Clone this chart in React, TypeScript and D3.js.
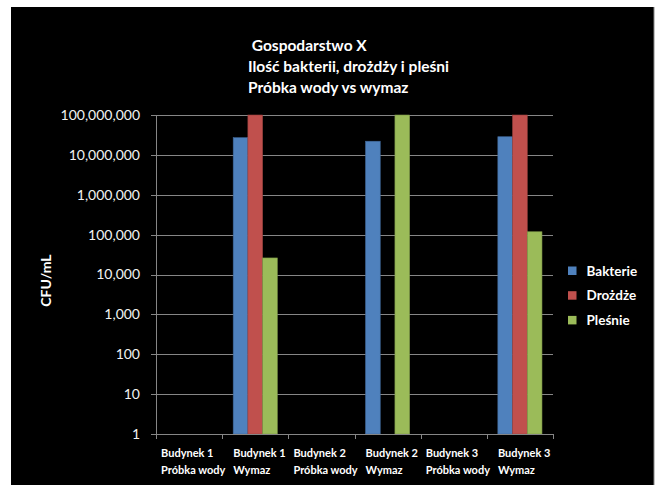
import React from "react";
import * as d3 from "d3";

const categories: [string, string][] = [
  ["Budynek 1", "Próbka wody"],
  ["Budynek 1", "Wymaz"],
  ["Budynek 2", "Próbka wody"],
  ["Budynek 2", "Wymaz"],
  ["Budynek 3", "Próbka wody"],
  ["Budynek 3", "Wymaz"],
];
const seriesNames = ["Bakterie", "Drożdże", "Pleśnie"];
const bakterie: (number | null)[] = [null, 27000000, null, 22000000, null, 28500000];
const drozdze: (number | null)[] = [null, 100000000, null, null, null, 100000000];
const plesnie: (number | null)[] = [null, 26000, null, 100000000, null, 118000];
const seriesValues = [bakterie, drozdze, plesnie];
const colors = ["#4F81BD", "#C0504D", "#9BBB59"];
const yTicks = [1, 10, 100, 1000, 10000, 100000, 1000000, 10000000, 100000000];
const titleLines = [" Gospodarstwo X", "Ilość bakterii, drożdży i pleśni", "Próbka wody vs wymaz"];
const yAxisTitle = "CFU/mL";

const W = 659, H = 485;
const plot = { left: 156, right: 553, top: 115, bottom: 434 };
const FONT = "Lato, 'Open Sans', sans-serif";

export default function App() {
  const x = d3.scaleBand<number>().domain(d3.range(categories.length)).range([plot.left, plot.right]).paddingInner(0).paddingOuter(0);
  const y = d3.scaleLog().domain([1, 1e8]).range([plot.bottom, plot.top]);
  const bw = x.bandwidth();
  const pad = bw / 6;
  const inner = d3.scaleBand<number>().domain([0, 1, 2]).range([pad, bw - pad]);
  const fmt = d3.format(",");
  return (
    <svg width={W} height={H} style={{ position: "absolute", left: 0, top: 0, display: "block" }}>
      <rect x={0} y={0} width={W} height={H} fill="#fff" />
      <rect x={11} y={7} width={643} height={478} fill="#000" />
      <line x1={654} x2={654} y1={7} y2={485} stroke="#888" strokeWidth={1} />
      {/* title */}
      <g fontFamily={FONT} fontWeight="bold" fontSize={15.5} fill="#fff">
        {titleLines.map((t, i) => (
          <text key={i} x={248} y={51 + i * 21} xmlSpace="preserve" style={{ whiteSpace: "pre" }}>{t}</text>
        ))}
      </g>
      {/* gridlines */}
      {yTicks.slice(1).map((t) => (
        <line key={t} x1={plot.left} x2={plot.right} y1={Math.round(y(t)) + 0.5} y2={Math.round(y(t)) + 0.5} stroke="#868686" strokeWidth={1} />
      ))}
      {/* y axis */}
      <line x1={plot.left + 0.5} x2={plot.left + 0.5} y1={plot.top} y2={plot.bottom} stroke="#868686" />
      {yTicks.map((t) => (
        <g key={t}>
          <line x1={plot.left - 5} x2={plot.left} y1={Math.round(y(t)) + 0.5} y2={Math.round(y(t)) + 0.5} stroke="#868686" />
          <text x={140} y={y(t)} dy="0.35em" textAnchor="end" fontFamily={FONT} fontSize={14} fill="#f2f2f2">{fmt(t)}</text>
        </g>
      ))}
      <text transform={`translate(51,${(plot.top + plot.bottom) / 2 + 6}) rotate(-90)`} textAnchor="middle" fontFamily={FONT} fontWeight="bold" fontSize={14} fill="#fff">{yAxisTitle}</text>
      {/* bars */}
      {seriesValues.map((vals, s) =>
        vals.map((v, i) =>
          v == null ? null : (
            <rect key={`${s}-${i}`} x={(x(i) as number) + (inner(s) as number)} width={inner.bandwidth()} y={y(v)} height={plot.bottom - y(v)} fill={colors[s]} stroke={d3.color(colors[s])!.darker(0.6).toString()} strokeWidth={0.6} />
          )
        )
      )}
      {/* x axis */}
      <line x1={plot.left} x2={plot.right} y1={plot.bottom + 0.5} y2={plot.bottom + 0.5} stroke="#868686" />
      {d3.range(categories.length + 1).map((i) => {
        const xx = Math.round(plot.left + i * bw) + 0.5;
        return <line key={i} x1={xx} x2={xx} y1={plot.bottom} y2={plot.bottom + 5} stroke="#868686" />;
      })}
      <g fontFamily={FONT} fontWeight="bold" fontSize={11} fill="#fff">
        {categories.map((c, i) => {
          const cx = (x(i) as number) + bw / 2;
          const off = c[1].length > 6 ? 28 : 22;
          return (
            <text key={i} x={cx - off} y={457}>
              <tspan x={cx - off} y={457}>{c[0]}</tspan>
              <tspan x={cx - off} y={474}>{c[1]}</tspan>
            </text>
          );
        })}
      </g>
      {/* legend */}
      {seriesNames.map((n, i) => (
        <g key={n} transform={`translate(568,${266.5 + i * 24.7})`}>
          <rect x={0} y={0} width={8.5} height={8.5} fill={colors[i]} />
          <text x={18.5} y={9} fontFamily={FONT} fontWeight="bold" fontSize={13.5} fill="#fff">{n}</text>
        </g>
      ))}
    </svg>
  );
}
